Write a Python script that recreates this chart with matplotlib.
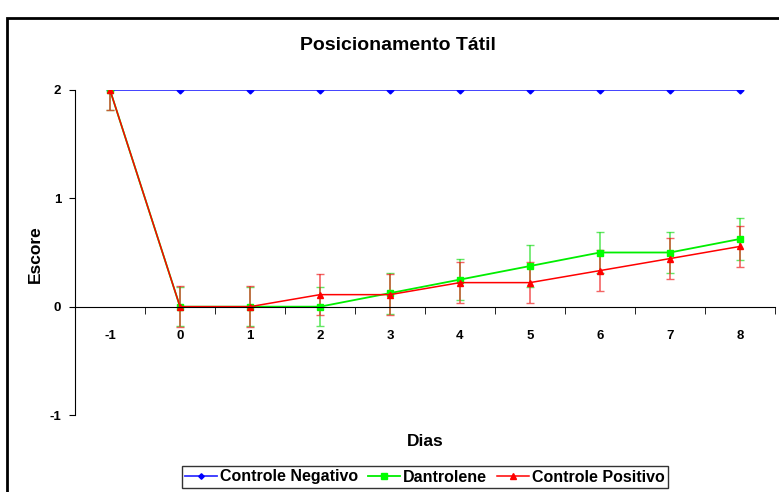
import numpy as np
import matplotlib.pyplot as plt
from matplotlib.patches import Rectangle

# ======================================================
# Data
# ======================================================

dias = [-1, 0, 1, 2, 3, 4, 5, 6, 7, 8]

negativo = [2, 2, 2, 2, 2, 2, 2, 2, 2, 2]

dantrolene = [2, 0, 0, 0, 0.125, 0.25, 0.375, 0.5, 0.5, 0.625]
dantrolene_err = [0.18, 0.18, 0.18, 0.18, 0.19, 0.19, 0.19, 0.19, 0.19, 0.19]

positivo = [2, 0, 0, 0.111, 0.111, 0.222, 0.222, 0.333, 0.444, 0.556]
positivo_err = [0.18, 0.19, 0.19, 0.19, 0.19, 0.19, 0.19, 0.19, 0.19, 0.19]

# ======================================================
# Plot
# ======================================================

plt.rcParams['font.family'] = ['Liberation Sans', 'DejaVu Sans']
plt.rcParams['font.weight'] = 'bold'

W, H = 779, 492
fig = plt.figure(figsize=(W/100, H/100), dpi=100)

# axes: x 75..775 px, y 90..415 px
ax = fig.add_axes([75/W, 1-415/H, 700/W, 325/H])

x = np.arange(len(dias))

ax.errorbar(x, dantrolene, yerr=dantrolene_err, fmt='none',
            ecolor='#22dd22', alpha=0.7, elinewidth=1.2, capsize=3)
ax.errorbar(x, positivo, yerr=positivo_err, fmt='none',
            ecolor='#ee2222', alpha=0.7, elinewidth=1.2, capsize=3)

ax.plot(x, negativo, color='#3333ff', lw=1.3, marker='D',
        markersize=3.5, markerfacecolor='#0000ff', markeredgecolor='#0000ff',
        label='Controle Negativo')
ax.plot(x, dantrolene, color='#00ee00', lw=1.3, marker='s',
        markersize=5, markerfacecolor='#00ff00', markeredgecolor='#00ff00',
        label='Dantrolene')
ax.plot(x, positivo, color='#ff0000', lw=1.1, marker='^',
        markersize=5, markerfacecolor='#ff0000', markeredgecolor='#ff0000',
        label='Controle Positivo')

ax.set_xlim(-0.5, len(dias)-0.5)
ax.set_ylim(-1, 2)

ax.spines['top'].set_visible(False)
ax.spines['right'].set_visible(False)
ax.spines['bottom'].set_position(('data', 0))
ax.spines['left'].set_color('black')
ax.spines['bottom'].set_color('black')

ax.set_yticks([-1, 0, 1, 2])
ax.set_yticklabels(['-1', '0', '1', '2'], fontsize=9.5, fontweight='bold')
ax.tick_params(axis='y', length=4, pad=6)

ax.set_xticks(x)
ax.set_xticklabels([str(d) for d in dias], fontsize=9.5, fontweight='bold')
ax.set_xticks(np.arange(-0.5, len(dias), 1.0), minor=True)
ax.tick_params(axis='x', which='major', length=0, pad=17)
ax.tick_params(axis='x', which='minor', length=5, direction='out')

fig.text(398/W, 1-45/H, 'Posicionamento Tátil', ha='center', va='center',
         fontsize=14, fontweight='bold')
fig.text(35/W, 1-254/H, 'Escore', ha='center', va='center',
         rotation=90, fontsize=12.5, fontweight='bold')
fig.text(425/W, 1-441/H, 'Dias', ha='center', va='center',
         fontsize=12.5, fontweight='bold')

leg = fig.legend(loc='center', bbox_to_anchor=(425/W, 1-477/H), ncol=3,
                 frameon=True, fancybox=False, fontsize=11.5,
                 handlelength=2.0, handletextpad=0.2, columnspacing=0.6,
                 borderpad=0.2, borderaxespad=0, markerscale=0.8)
leg.get_frame().set_edgecolor('black')
leg.get_frame().set_linewidth(1.0)
for t in leg.get_texts():
    t.set_fontweight('bold')

# outer chart border
fig.patches.append(Rectangle((7/W, -0.1), 1.2, 1-18/H+0.1,
                             transform=fig.transFigure, fill=False,
                             edgecolor='black', linewidth=2))

fig.savefig('out.png', dpi=100)
